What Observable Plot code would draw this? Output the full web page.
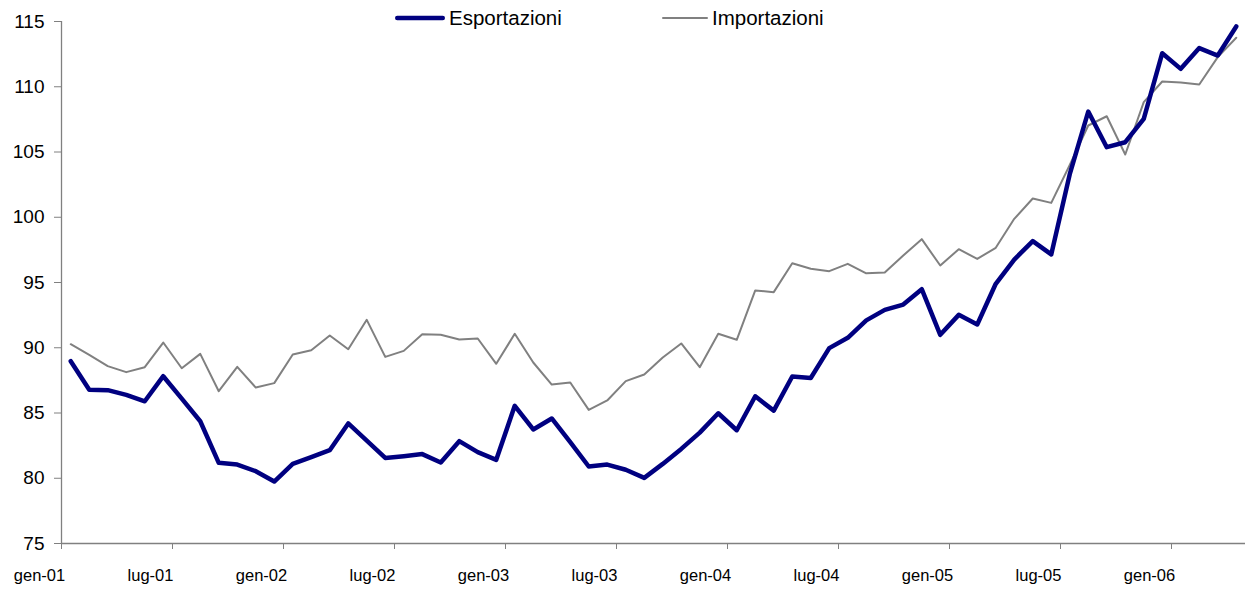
<!DOCTYPE html>
<html>
<head>
<meta charset="utf-8">
<script src="https://cdn.jsdelivr.net/npm/d3@7"></script>
<script src="https://cdn.jsdelivr.net/npm/@observablehq/plot@0.6"></script>
<style>
  html, body { margin: 0; padding: 0; background: #fff; }
  #wrap { position: relative; width: 1246px; height: 594px; font-family: "Liberation Sans", Arial, sans-serif; }
  #legend { position: absolute; top: 0; left: 0; width: 1246px; height: 36px; pointer-events: none; }
  .item { position: absolute; top: 6px; display: flex; align-items: center; font-size: 20.5px; color: #000; height: 24px; }
  .item svg { margin-right: 4px; }
</style>
</head>
<body>
<div id="wrap">
  <div id="chart"></div>
  <div id="legend"></div>
</div>
<script>
// Monthly index, gen-01 .. apr-06
const exportsIdx = [
  88.97, 86.78, 86.75, 86.39, 85.90, 87.82, 86.10, 84.37, 81.18, 81.05, 80.54, 79.75,
  81.10, 81.62, 82.15, 84.20, 82.89, 81.56, 81.69, 81.85, 81.21, 82.84, 82.00, 81.41,
  85.55, 83.74, 84.58, 82.77, 80.90, 81.05, 80.65, 80.03, 81.10, 82.25, 83.50, 84.98,
  83.68, 86.28, 85.18, 87.80, 87.68, 89.97, 90.76, 92.10, 92.90, 93.31, 94.49, 90.99,
  92.52, 91.78, 94.90, 96.76, 98.17, 97.15, 103.30, 108.10, 105.37, 105.75, 107.54, 112.57,
  111.37, 112.96, 112.39, 114.62
];
const importsIdx = [
  90.27, 89.46, 88.59, 88.13, 88.51, 90.40, 88.43, 89.53, 86.67, 88.54, 86.95, 87.29,
  89.48, 89.81, 90.94, 89.89, 92.14, 89.30, 89.76, 91.04, 91.00, 90.63, 90.71, 88.77,
  91.07, 88.87, 87.18, 87.34, 85.24, 85.96, 87.44, 87.95, 89.25, 90.33, 88.51, 91.07,
  90.61, 94.39, 94.26, 96.48, 96.05, 95.87, 96.43, 95.70, 95.77, 97.07, 98.32, 96.30,
  97.55, 96.81, 97.66, 99.88, 101.44, 101.10, 104.00, 107.03, 107.74, 104.81, 108.82, 110.40,
  110.33, 110.17, 112.27, 113.75
];
const seriesNames = ["Esportazioni", "Importazioni"];
const seriesColors = ["#000080", "#808080"];
const seriesWidths = [4.5, 2];
const xTickPositions = [0, 6, 12, 18, 24, 30, 36, 42, 48, 54, 60];
const xTickLabels = ["gen-01", "lug-01", "gen-02", "lug-02", "gen-03", "lug-03", "gen-04", "lug-04", "gen-05", "lug-05", "gen-06"];
const yTicks = [75, 80, 85, 90, 95, 100, 105, 110, 115];

const rows = [];
exportsIdx.forEach((v, i) => rows.push({series: seriesNames[0], m: i, v}));
importsIdx.forEach((v, i) => rows.push({series: seriesNames[1], m: i, v}));

const labelOf = new Map(xTickPositions.map((p, i) => [p, xTickLabels[i]]));
const axisColor = "#808080";

const chart = Plot.plot({
  width: 1246,
  height: 594,
  marginLeft: 61,
  marginRight: 1,
  marginTop: 21,
  marginBottom: 51,
  style: {fontFamily: "'Liberation Sans', Arial, sans-serif", background: "#fff", color: "#000"},
  x: {type: "linear", domain: [0, 64]},
  y: {domain: [75, 115]},
  marks: [
    Plot.ruleY([75], {stroke: axisColor, strokeWidth: 1.3}),
    Plot.ruleX([0], {stroke: axisColor, strokeWidth: 1.3}),
    Plot.axisY({ticks: yTicks, tickSize: 7, tickPadding: 10, fontSize: 19, stroke: axisColor, label: null, tickFormat: d => String(d)}),
    // tick marks on month boundaries
    Plot.axisX({ticks: xTickPositions, tickSize: 6, stroke: axisColor, label: null, tickFormat: () => ""}),
    // labels shifted left as in the original
    Plot.axisX({ticks: xTickPositions, tickSize: 0, tickPadding: 26, fontSize: 16.5, label: null, tickFormat: d => labelOf.get(d), dx: -22}),
    Plot.line(rows.filter(d => d.series === seriesNames[1]), {x: d => d.m + 0.5, y: "v", stroke: seriesColors[1], strokeWidth: seriesWidths[1], strokeLinejoin: "round"}),
    Plot.line(rows.filter(d => d.series === seriesNames[0]), {x: d => d.m + 0.5, y: "v", stroke: seriesColors[0], strokeWidth: seriesWidths[0], strokeLinejoin: "round", strokeLinecap: "round"})
  ]
});
document.getElementById("chart").appendChild(chart);

// Legend
const legend = document.getElementById("legend");
const legendLeft = [395, 662];
const swatchLen = [50, 46];
seriesNames.forEach((name, i) => {
  const item = document.createElement("div");
  item.className = "item";
  item.style.left = legendLeft[i] + "px";
  item.innerHTML = `<svg width="${swatchLen[i]}" height="10"><line x1="${seriesWidths[i]/2}" y1="5" x2="${swatchLen[i] - seriesWidths[i]/2}" y2="5" stroke="${seriesColors[i]}" stroke-width="${seriesWidths[i]}" stroke-linecap="round"/></svg><span>${name}</span>`;
  legend.appendChild(item);
});
</script>
</body>
</html>
